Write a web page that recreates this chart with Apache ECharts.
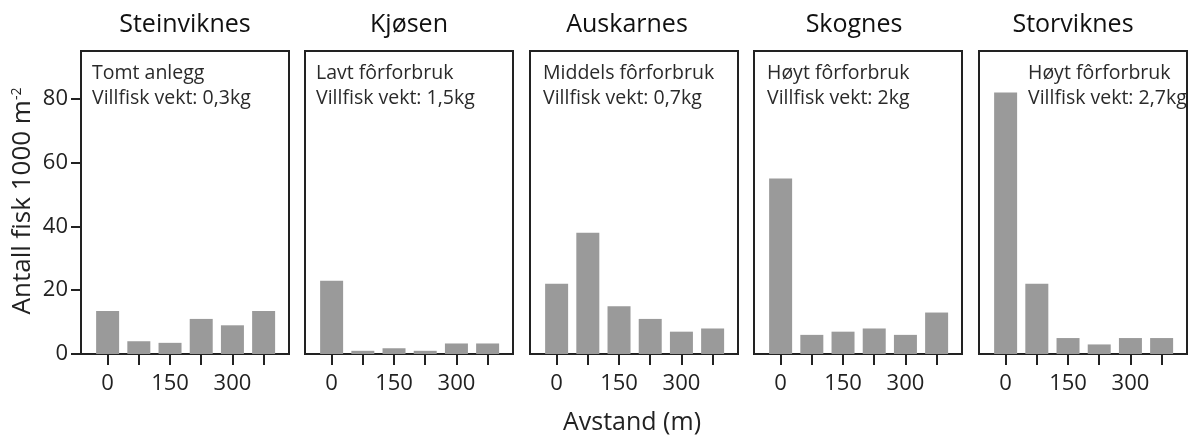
<!DOCTYPE html>
<html><head><meta charset="utf-8">
<script src="https://cdn.jsdelivr.net/npm/echarts@6/dist/echarts.min.js"></script>
<style>html,body{margin:0;padding:0;background:#fff}#c{width:1192px;height:439px}</style>
</head><body><div id="c"></div>
<script>
// ---- data ----
const sites = ['Steinviknes', 'Kjøsen', 'Auskarnes', 'Skognes', 'Storviknes'];
const feedNotes = ['Tomt anlegg', 'Lavt fôrforbruk', 'Middels fôrforbruk', 'Høyt fôrforbruk', 'Høyt fôrforbruk'];
const weightNotes = ['Villfisk vekt: 0,3kg', 'Villfisk vekt: 1,5kg', 'Villfisk vekt: 0,7kg', 'Villfisk vekt: 2kg', 'Villfisk vekt: 2,7kg'];
const distances = [0, 75, 150, 225, 300, 375];
const distanceTickLabels = [0, 150, 300];
const yTickValues = [0, 20, 40, 60, 80];
const steinviknes = [13.5, 4, 3.5, 11, 9, 13.5];
const kjosen = [23, 1, 1.8, 1, 3.3, 3.3];
const auskarnes = [22, 38, 15, 11, 7, 8];
const skognes = [55, 6, 7, 8, 6, 13];
const storviknes = [82, 22, 5, 3, 5, 5];
const seriesValues = [steinviknes, kjosen, auskarnes, skognes, storviknes];
const yAxisTitle = 'Antall fisk 1000 m';
const yAxisTitleSup = '-2';
const xAxisTitle = 'Avstand (m)';

// ---- layout ----
const FONT = 'Open Sans';
const gridLefts = [81, 305, 530, 754, 979];
const gridWidth = 208;
const gridTop = 51, gridHeight = 303;
const noteOffsets = [11, 11, 13, 13, 49];
const titleShift = [0, 0, -7, -4, -10];

const grids = [], xAxes = [], yAxes = [], series = [], titles = [];
sites.forEach((site, i) => {
  grids.push({
    left: gridLefts[i], top: gridTop, width: gridWidth, height: gridHeight,
    show: true, borderColor: '#222', borderWidth: 2
  });
  xAxes.push({
    type: 'value', gridIndex: i,
    min: -64, max: 436,
    splitLine: { show: false },
    axisLine: { show: true, onZero: false, lineStyle: { color: '#222', width: 2 } },
    axisTick: { show: true, length: 11, customValues: distances, lineStyle: { color: '#222', width: 2 } },
    axisLabel: { show: true, customValues: distanceTickLabels, margin: 19, fontFamily: FONT, fontSize: 22, color: '#222' }
  });
  yAxes.push({
    type: 'value', gridIndex: i,
    min: 0, max: 95,
    splitLine: { show: false },
    axisLine: { show: i === 0, onZero: false, lineStyle: { color: '#222', width: 2 } },
    axisTick: { show: i === 0, length: 10, customValues: yTickValues, lineStyle: { color: '#222', width: 2 } },
    axisLabel: { show: i === 0, customValues: yTickValues, margin: 13, fontFamily: FONT, fontSize: 22, color: '#222' }
  });
  series.push({
    type: 'bar', xAxisIndex: i, yAxisIndex: i,
    barWidth: 23,
    itemStyle: { color: '#9a9a9a' },
    data: distances.map((d, k) => [d, seriesValues[i][k]]),
    silent: true
  });
  titles.push({
    text: site,
    left: gridLefts[i] + gridWidth / 2 + titleShift[i], top: 12, textAlign: 'center', padding: 0,
    textStyle: { fontFamily: FONT, fontSize: 25, fontWeight: 'normal', color: '#111' }
  });
  titles.push({
    text: feedNotes[i],
    left: gridLefts[i] + noteOffsets[i], top: 61, padding: 0,
    textStyle: { fontFamily: FONT, fontSize: 19.5, lineHeight: 25, fontWeight: 'normal', color: '#2a2a2a' }
  });
  titles.push({
    text: weightNotes[i],
    left: gridLefts[i] + noteOffsets[i], top: 86, padding: 0,
    textStyle: { fontFamily: FONT, fontSize: 19.5, lineHeight: 25, fontWeight: 'normal', color: '#2a2a2a' }
  });
});
// x-axis title centred under the middle panel
titles.push({
  text: xAxisTitle,
  left: gridLefts[2] + gridWidth / 2 - 2, top: 410, textAlign: 'center', padding: 0,
  textStyle: { fontFamily: FONT, fontSize: 25, fontWeight: 'normal', color: '#222' }
});

const chart = echarts.init(document.getElementById('c'), null, { renderer: 'canvas' });
chart.setOption({
  animation: false,
  backgroundColor: '#fff',
  title: titles,
  grid: grids,
  xAxis: xAxes,
  yAxis: yAxes,
  series: series,
  graphic: [{
    type: 'text', x: 23, y: 201, rotation: Math.PI / 2, silent: true,
    style: {
      text: yAxisTitle + '{sup|' + yAxisTitleSup + '}',
      fontFamily: FONT, fontSize: 26, fill: '#222',
      align: 'center', verticalAlign: 'middle',
      rich: { sup: { fontFamily: FONT, fontSize: 14, fill: '#222', verticalAlign: 'top' } }
    }
  }]
});
</script></body></html>
